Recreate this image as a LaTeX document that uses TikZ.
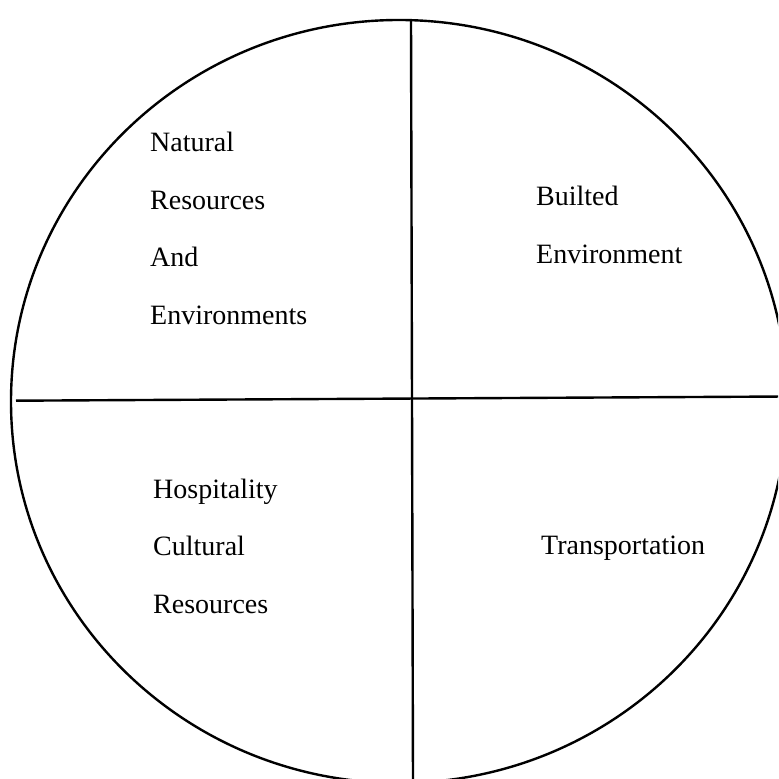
\documentclass[tikz,border=0pt]{standalone}
\usepackage{fontspec}
\setmainfont{Liberation Serif}
\newcommand{\quadlines}[1]{\begin{tabular}[t]{@{}l@{}}#1\end{tabular}}
\tikzset{
  quadtext/.style={anchor=base west, inner sep=0pt,
    font=\fontsize{14}{28.75}\selectfont}
}
\begin{document}
\begin{tikzpicture}[x=0.5pt,y=-0.5pt,color=black,line width=1.2pt]
		\useasboundingbox (0,0) rectangle (778,779);
		\clip (0,0) rectangle (778,779);
		\coordinate (top) at (411,20);
		\coordinate (bottom) at (413,785);
		\coordinate (left) at (16,400.7);
		\coordinate (right) at (786,396.5);
		\draw (399,401.5) ellipse [x radius=388, y radius=381.5];
		\draw (top) -- (bottom);
		\draw (left) -- (right);
		\node[quadtext] (natural) at (149,152) {\quadlines{Natural\\Resources\\And\\Environments}};
		\node[quadtext] (built) at (535,206) {\quadlines{Builted\\Environment}};
		\node[quadtext] (hospitality) at (152,498) {\quadlines{Hospitality\\Cultural\\Resources}};
		\node[quadtext] (transport) at (540,554) {Transportation};
\end{tikzpicture}
\end{document}
